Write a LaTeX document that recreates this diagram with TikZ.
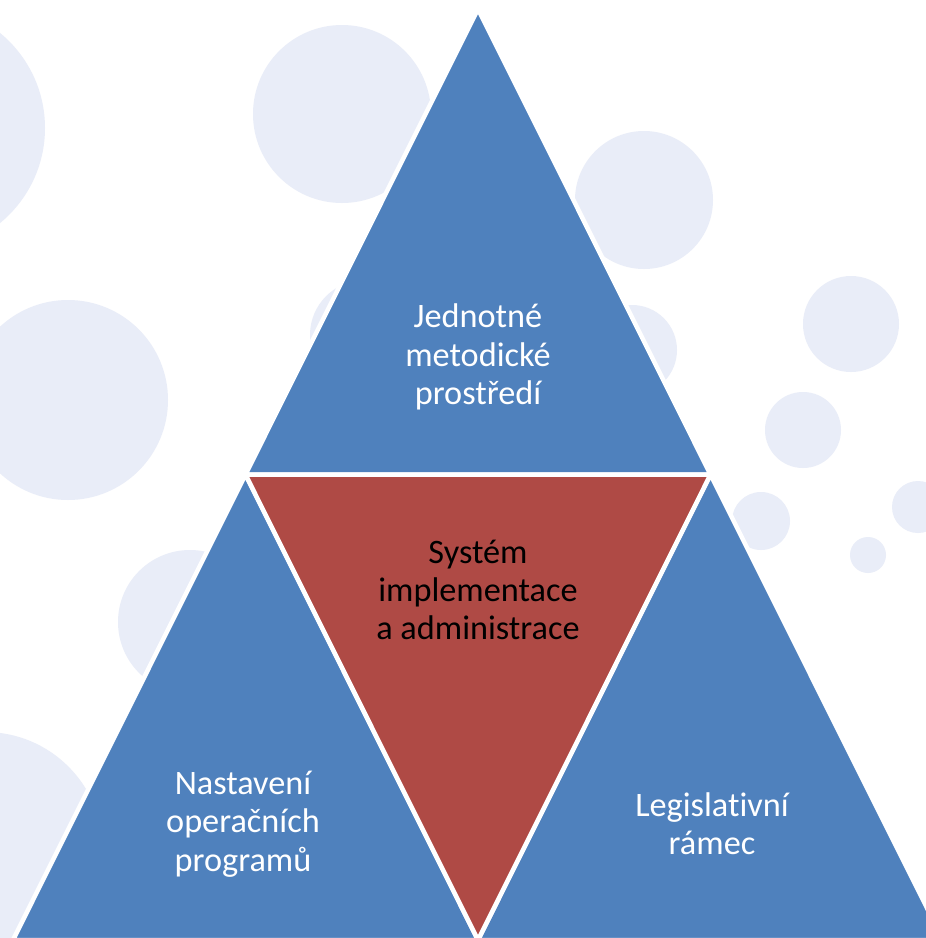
\documentclass[tikz,border=0pt]{standalone}
\usepackage{fontspec}
\setmainfont{Carlito}[Ligatures=NoCommon]
\usetikzlibrary{calc}
\definecolor{dilmodra}{HTML}{4F81BD}
\definecolor{dilcervena}{HTML}{AF4A45}
\definecolor{bublina}{HTML}{E9EDF8}
\tikzset{
  bubble/.style = {fill=bublina},
  part/.style = {draw=white, line width=0.09cm, line join=miter},
  caption/.style = {align=center, font=\fontsize{19.5}{21.8}\selectfont}
}
\begin{document}
\begin{tikzpicture}[x=0.02cm, y=-0.02cm]
  \clip (0,0) rectangle (926,938);
  \fill[white] (0,0) rectangle (926,938);

  % background bubbles
  \foreach \cx/\cy/\r in {-78/128/123, 342/114/89, 68/400/100, 644/200/69,
      851/324/48, 803/430/38, 761/521/29, 918/507/26, 868/555/18,
      632/350/45, 365/335/55, 190/622/72, -15/850/118}
    \fill[bubble] (\cx,\cy) circle (\r);

  % corners of the big triangle and the midpoints of its sides
  \coordinate (apex) at (478,9);
  \coordinate (bl) at (13,940);
  \coordinate (br) at (943,940);
  \coordinate (ml) at ($(apex)!0.5!(bl)$);
  \coordinate (mr) at ($(apex)!0.5!(br)$);
  \coordinate (mb) at ($(bl)!0.5!(br)$);

  \filldraw[part, fill=dilmodra] (apex) -- (ml) -- (mr) -- cycle;
  \filldraw[part, fill=dilmodra] (ml) -- (bl) -- (mb) -- cycle;
  \filldraw[part, fill=dilmodra] (mr) -- (mb) -- (br) -- cycle;
  \filldraw[part, fill=dilcervena] (ml) -- (mr) -- (mb) -- cycle;

  \node[caption, text=white] (metodika) at (478,357) {Jednotné\\metodické\\prostředí};
  \node[caption, text=black] (system) at (478,590) {Systém\\implementace\\a administrace};
  \node[caption, text=white] (programy) at (243,824) {Nastavení\\operačních\\programů};
  \node[caption, text=white] (ramec) at (712,824) {Legislativní\\rámec};
\end{tikzpicture}
\end{document}
